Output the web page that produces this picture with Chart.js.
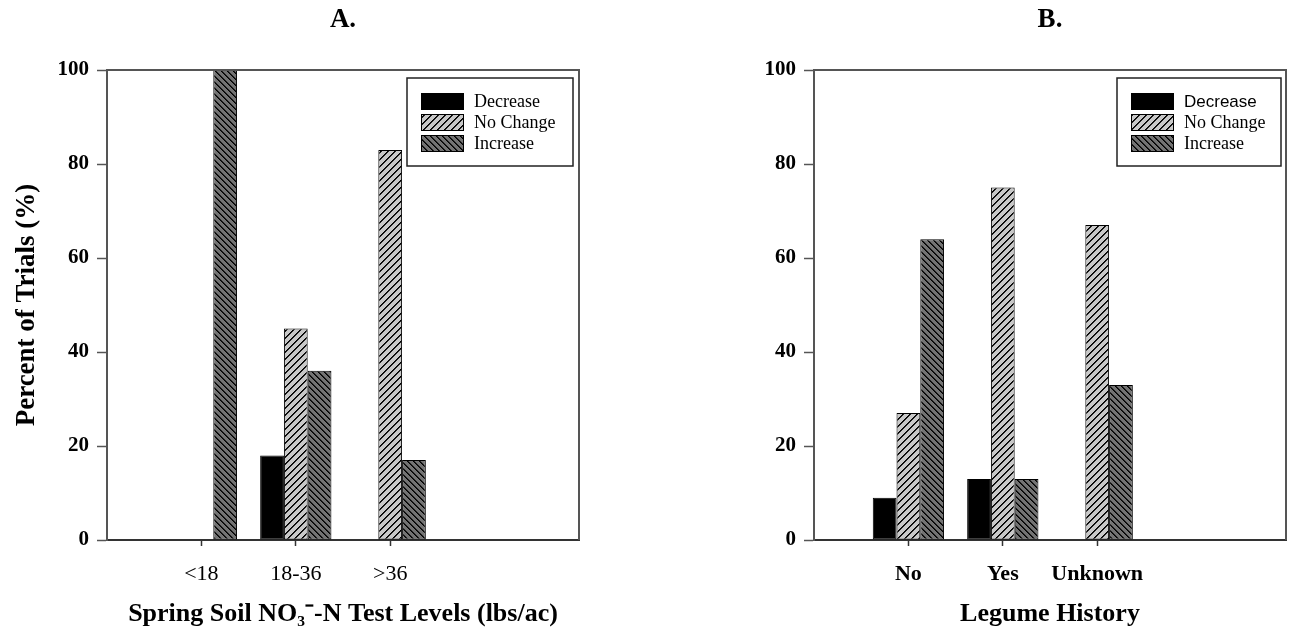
<!DOCTYPE html>
<html lang="en">
<head>
    <meta charset="UTF-8">
    <title>Percent of Trials</title>
    <style>
        body {
            margin: 0;
            background: #fff;
        }
        #wrap {
            display: flex;
            width: 1290px;
            height: 635px;
        }
        canvas {
            display: block;
        }
    </style>
    <script src="https://cdn.jsdelivr.net/npm/chart.js"></script>
</head>
<body>
    <div id="wrap">
        <canvas id="chartA" width="645" height="635"></canvas>
        <canvas id="chartB" width="645" height="635"></canvas>
    </div>

    <script>
        // Panel A: spring soil nitrate test levels
        const levelsA = ['<18', '18-36', '>36'];
        const decreaseA = [0, 18, 0];
        const noChangeA = [0, 45, 83];
        const increaseA = [100, 36, 17];

        // Panel B: legume history
        const levelsB = ['No', 'Yes', 'Unknown'];
        const decreaseB = [9, 13, 0];
        const noChangeB = [27, 75, 67];
        const increaseB = [64, 13, 33];

        const seriesNames = ['Decrease', 'No Change', 'Increase'];
        const yTicks = [0, 20, 40, 60, 80, 100];

        const SERIF = "'Liberation Serif', 'Times New Roman', serif";
        const SANS = "'Liberation Sans', Arial, sans-serif";

        // hatch fill: dir 1 = '/', dir -1 = '\'
        function hatch(bg, dir, size) {
            const c = document.createElement('canvas');
            c.width = c.height = size;
            const g = c.getContext('2d');
            g.fillStyle = bg;
            g.fillRect(0, 0, size, size);
            for (let i = 0; i < size; i++) {
                const y = dir > 0 ? size - 1 - i : i;
                g.fillStyle = '#000';
                g.fillRect(i, y, 1, 1);
                g.fillStyle = '#222';
                g.fillRect((i + 1) % size, y, 1, 1);
            }
            return g.createPattern(c, 'repeat');
        }

        const fills = ['#000', hatch('#c8c8c8', 1, 7), hatch('#737373', -1, 6)];

        // x positions of the categories on the 0..5 axis
        const toPoints = (vals) => vals.map((v, i) => ({ x: i + 1, y: v }));

        const frameAndTitle = {
            id: 'frameAndTitle',
            afterDraw(chart, args, opts) {
                const { ctx, chartArea } = chart;
                ctx.save();
                ctx.strokeStyle = '#555';
                ctx.lineWidth = 2;
                ctx.beginPath();
                ctx.moveTo(chartArea.left, chartArea.top);
                ctx.lineTo(chartArea.right, chartArea.top);
                ctx.lineTo(chartArea.right, chartArea.bottom);
                ctx.stroke();

                ctx.fillStyle = '#000';
                ctx.font = 'bold 27px ' + SERIF;
                ctx.textAlign = 'center';
                ctx.textBaseline = 'middle';
                ctx.fillText(opts.text, (chartArea.left + chartArea.right) / 2, 20);
                ctx.restore();
            }
        };

        const legendBox = {
            id: 'legendBox',
            afterDraw(chart, args, opts) {
                const { ctx, chartArea } = chart;
                const w = opts.width, h = opts.height;
                const x = chartArea.right - opts.right - w;
                const y = chartArea.top + 8;
                ctx.save();
                ctx.fillStyle = '#fff';
                ctx.fillRect(x, y, w, h);
                ctx.strokeStyle = '#222';
                ctx.lineWidth = 1.5;
                ctx.strokeRect(x, y, w, h);
                chart.data.datasets.forEach((ds, i) => {
                    const sy = y + 15 + i * 21;
                    ctx.fillStyle = ds.backgroundColor;
                    ctx.fillRect(x + 14, sy, 43, 17);
                    ctx.strokeStyle = '#000';
                    ctx.lineWidth = 1;
                    ctx.strokeRect(x + 14.5, sy + 0.5, 42, 16);
                    ctx.fillStyle = '#000';
                    ctx.font = opts.fonts[i];
                    ctx.textAlign = 'left';
                    ctx.textBaseline = 'middle';
                    ctx.fillText(ds.label, x + 67, sy + 9);
                });
                ctx.restore();
            }
        };

        function makeChart(id, cfg) {
            const datasets = [cfg.dec, cfg.noc, cfg.inc].map((vals, i) => ({
                label: seriesNames[i],
                data: toPoints(vals),
                backgroundColor: fills[i],
                borderColor: '#000',
                borderWidth: 1,
                borderSkipped: false,
                categoryPercentage: 0.755,
                barPercentage: 1.0
            }));

            return new Chart(document.getElementById(id), {
                type: 'bar',
                data: { datasets: datasets },
                plugins: [frameAndTitle, legendBox],
                options: {
                    responsive: false,
                    animation: false,
                    layout: { padding: { top: 70, right: cfg.padRight, left: 0, bottom: 0 } },
                    plugins: {
                        legend: { display: false },
                        tooltip: { enabled: false },
                        frameAndTitle: { text: cfg.title },
                        legendBox: { width: cfg.legendW, height: 88, right: cfg.legendRight, fonts: cfg.legendFonts }
                    },
                    scales: {
                        x: {
                            type: 'linear',
                            min: 0,
                            max: 5,
                            offset: false,
                            afterFit(scale) { scale.height = 95; },
                            afterBuildTicks(scale) {
                                scale.ticks = cfg.labels.map((l, i) => ({ value: i + 1 }));
                            },
                            ticks: {
                                autoSkip: false,
                                maxRotation: 0,
                                padding: 15,
                                color: '#000',
                                font: { family: SERIF, size: 22, weight: cfg.xTickWeight },
                                callback: (v) => cfg.labels[v - 1]
                            },
                            grid: { offset: false, drawOnChartArea: false, tickLength: 6, tickColor: '#333', tickWidth: 1.5 },
                            border: { color: '#333', width: 2 },
                            title: {
                                display: true,
                                text: cfg.xTitle,
                                color: '#000',
                                padding: { top: 0, bottom: 5 },
                                font: { family: SERIF, size: 26, weight: 'bold' }
                            }
                        },
                        y: {
                            min: 0,
                            max: 100,
                            afterFit(scale) { scale.width = cfg.yWidth; },
                            afterBuildTicks(scale) {
                                scale.ticks = yTicks.map((v) => ({ value: v }));
                            },
                            ticks: {
                                padding: 8,
                                color: '#000',
                                font: { family: SERIF, size: 21, weight: 'bold' }
                            },
                            grid: { drawOnChartArea: false, tickLength: 10, tickColor: '#555', tickWidth: 1.5 },
                            border: { color: '#555', width: 2 },
                            title: {
                                display: cfg.yTitle !== '',
                                text: cfg.yTitle,
                                color: '#000',
                                padding: { top: 11, bottom: 0 },
                                font: { family: SERIF, size: 27, weight: 'bold' }
                            }
                        }
                    }
                }
            });
        }

        makeChart('chartA', {
            title: 'A.',
            labels: levelsA,
            dec: decreaseA, noc: noChangeA, inc: increaseA,
            xTitle: 'Spring Soil NO\u2083\u207B-N Test Levels (lbs/ac)',
            yTitle: 'Percent of Trials (%)',
            xTickWeight: 'normal',
            yWidth: 107,
            padRight: 66,
            legendW: 166,
            legendRight: 6,
            legendFonts: ['18px ' + SERIF, '18px ' + SERIF, '18px ' + SERIF]
        });

        makeChart('chartB', {
            title: 'B.',
            labels: levelsB,
            dec: decreaseB, noc: noChangeB, inc: increaseB,
            xTitle: 'Legume History',
            yTitle: '',
            xTickWeight: 'bold',
            yWidth: 169,
            padRight: 4,
            legendW: 164,
            legendRight: 5,
            legendFonts: ['17px ' + SANS, '18px ' + SERIF, '18px ' + SERIF]
        });
    </script>
</body>
</html>
